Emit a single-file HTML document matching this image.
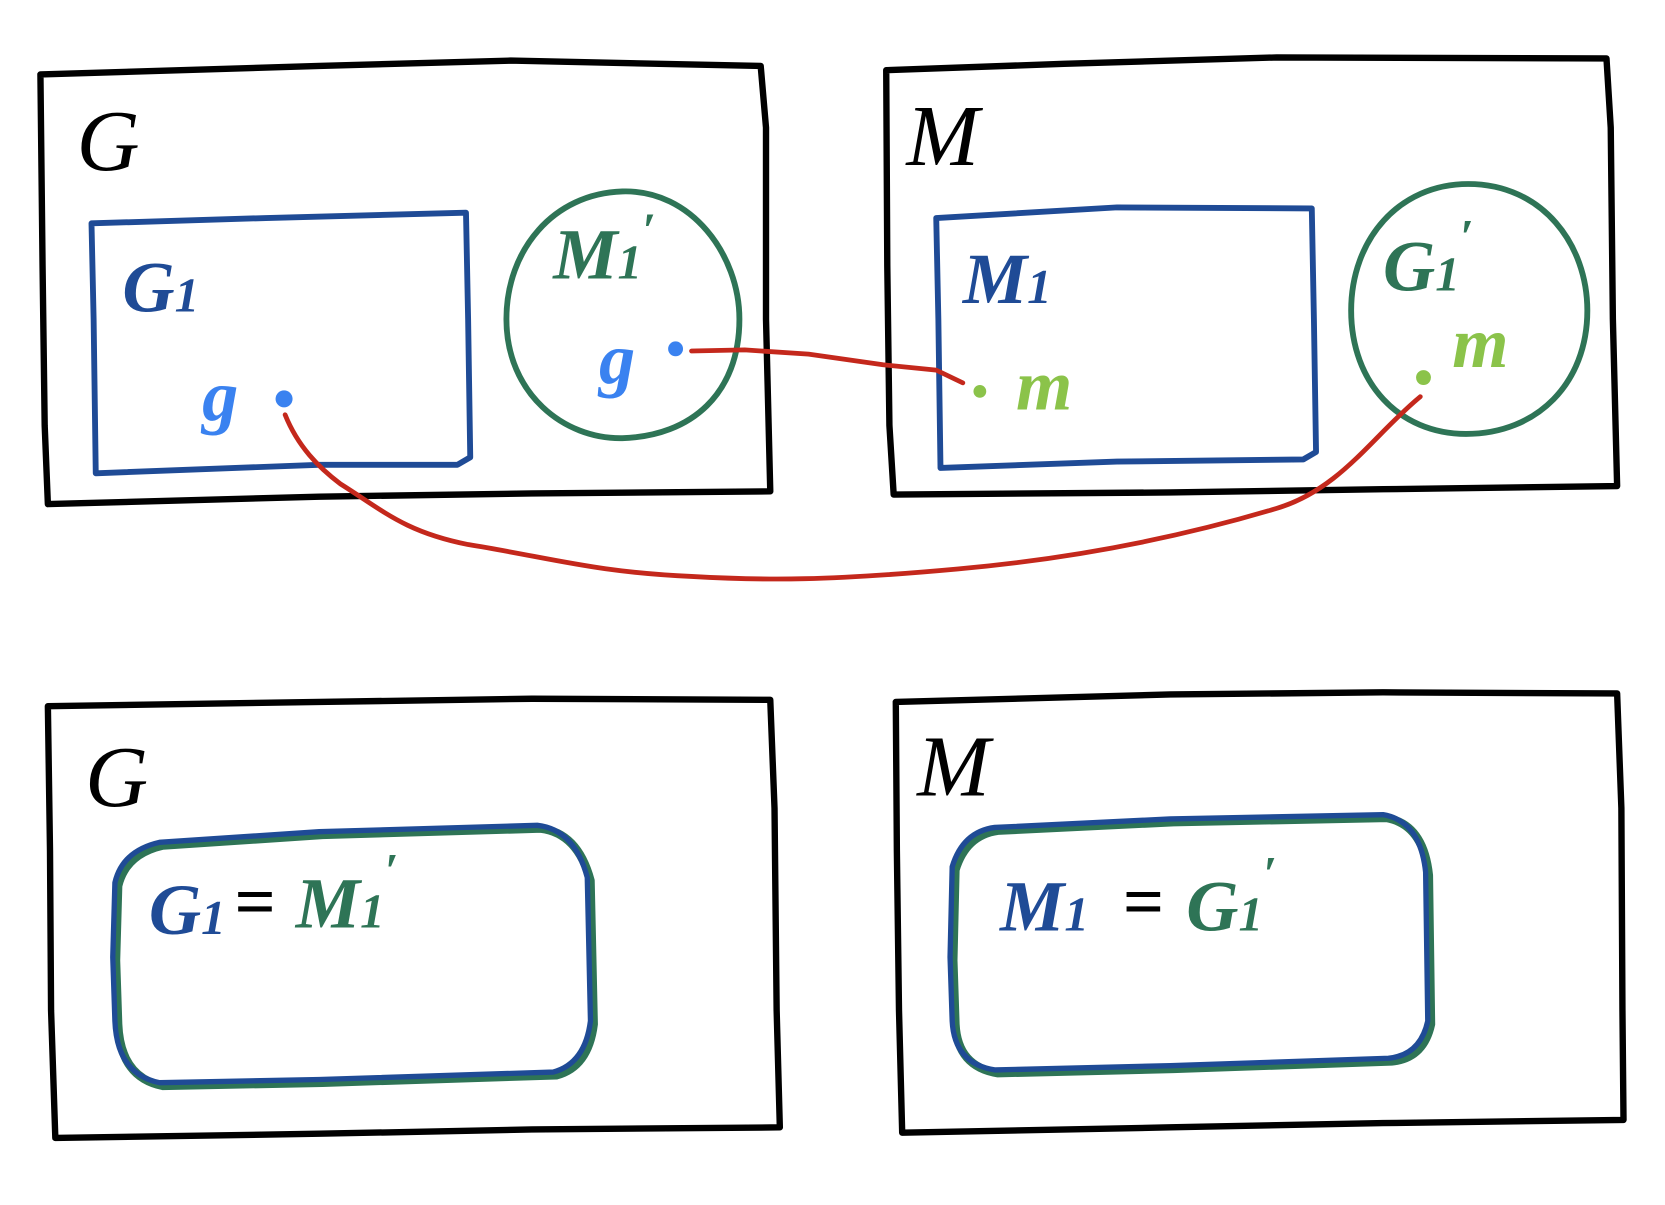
<!DOCTYPE html>
<html><head><meta charset="utf-8"><style>
html,body{margin:0;padding:0;background:#fff;}
svg{display:block;}
text{font-family:"Liberation Serif",serif;font-style:italic;}
</style></head><body>
<svg width="1665" height="1205" viewBox="0 0 1565 1133" preserveAspectRatio="none" xmlns="http://www.w3.org/2000/svg">
<g fill="none" stroke-linecap="round" stroke-linejoin="round">
<g stroke="#000" stroke-width="6">
<path d="M38,70 L300,62 L480,57 L715,62 L720,120 L720,300 L724,462 L500,464 L300,467 L45,474 L42,400 L40,250 L38,70"/>
<path d="M833,66 L1000,60 L1200,54 L1510,55 L1514,120 L1516,300 L1520,457 L1300,460 L1100,463 L840,465 L836,400 L834,250 L833,66"/>
<path d="M45,664 L300,660 L500,657 L724,658 L728,760 L730,950 L733,1060 L500,1062 L300,1066 L52,1070 L48,950 L47,800 L45,664"/>
<path d="M842,660 L1100,653 L1300,651 L1520,652 L1524,760 L1525,950 L1526,1053 L1300,1056 L1100,1060 L848,1065 L845,950 L843,800 L842,660"/>
</g>
<g stroke="#1f4b96" stroke-width="5.5">
<path d="M86,210 L250,205 L438,200 L440,300 L442,430 L430,437 L300,437 L90,445 L88,300 Z"/>
<path d="M880,205 L1050,195 L1233,196 L1235,300 L1237,425 L1225,432 L1050,434 L884,440 L882,300 Z"/>
</g>
<g stroke="#2e7456" stroke-width="5.5">
<path d="M585,180 C650,178 695,240 695,300 C695,370 650,410 585,412 C530,413 476,370 476,300 C476,235 520,182 585,180 Z"/>
<path d="M1380,173 C1450,173 1492,230 1492,292 C1492,360 1445,408 1378,408 C1315,408 1270,360 1270,292 C1270,225 1315,173 1380,173 Z"/>
</g>
<path d="M150,792 L300,782 L505,776 Q540,780 552,825 L555,960 Q550,1000 520,1008 L300,1015 L150,1018 Q110,1010 108,960 L106,900 L108,830 Q115,800 150,792 Z" stroke="#2e7456" stroke-width="8" transform="translate(3,3)"/>
<path d="M150,792 L300,782 L505,776 Q540,780 552,825 L555,960 Q550,1000 520,1008 L300,1015 L150,1018 Q110,1010 108,960 L106,900 L108,830 Q115,800 150,792 Z" stroke="#1f4b96" stroke-width="5"/>
<path d="M935,778 L1100,770 L1300,766 Q1335,772 1340,820 L1342,960 Q1335,992 1305,995 L1100,1002 L935,1006 Q897,1000 895,960 L893,900 L895,815 Q905,782 935,778 Z" stroke="#2e7456" stroke-width="8" transform="translate(3,3)"/>
<path d="M935,778 L1100,770 L1300,766 Q1335,772 1340,820 L1342,960 Q1335,992 1305,995 L1100,1002 L935,1006 Q897,1000 895,960 L893,900 L895,815 Q905,782 935,778 Z" stroke="#1f4b96" stroke-width="5"/>
<g stroke="#c4281c" stroke-width="4.5">
<path d="M650,330 L700,329 L760,333 L830,343 L880,348 L905,360"/>
<path d="M268,390 C280,420 300,440 320,455 C360,480 380,500 440,512 C520,525 560,538 650,542 C720,546 780,546 900,535 C1000,526 1100,508 1200,478 C1260,460 1290,410 1335,373"/>
</g>
</g>
<circle cx="267" cy="375" r="8" fill="#3a82f0"/>
<circle cx="635" cy="328" r="7" fill="#3a82f0"/>
<circle cx="921" cy="368" r="6" fill="#8bc34a"/>
<circle cx="1338" cy="355" r="7" fill="#8bc34a"/>
<g font-size="82">
<text x="72" y="160" fill="#000">G</text>
<text x="852" y="155" fill="#000">M</text>
<text x="80" y="758" fill="#000">G</text>
<text x="862" y="748" fill="#000">M</text>
</g>
<g font-size="68" font-weight="bold">
<text x="115" y="293" fill="#1f4b96">G<tspan font-size="46">1</tspan></text>
<text x="520" y="262" fill="#2e7456">M<tspan font-size="46">1</tspan><tspan dy="-30" font-size="46">′</tspan></text>
<text x="905" y="285" fill="#1f4b96">M<tspan font-size="46">1</tspan></text>
<text x="1300" y="273" fill="#2e7456">G<tspan font-size="46">1</tspan><tspan dy="-35" font-size="46">′</tspan></text>
<text x="190" y="395" fill="#3a82f0">g</text>
<text x="563" y="360" fill="#3a82f0">g</text>
<text x="955" y="385" fill="#8bc34a">m</text>
<text x="1365" y="345" fill="#8bc34a">m</text>
<text x="140" y="878" fill="#1f4b96">G<tspan font-size="46">1</tspan></text>
<text x="220" y="870" fill="#000" font-style="normal">=</text>
<text x="278" y="872" fill="#2e7456">M<tspan font-size="46">1</tspan><tspan dy="-38" font-size="46">′</tspan></text>
<text x="940" y="875" fill="#1f4b96">M<tspan font-size="46">1</tspan></text>
<text x="1055" y="870" fill="#000" font-style="normal">=</text>
<text x="1115" y="875" fill="#2e7456">G<tspan font-size="46">1</tspan><tspan dy="-38" font-size="46">′</tspan></text>
</g>
</svg>
</body></html>
